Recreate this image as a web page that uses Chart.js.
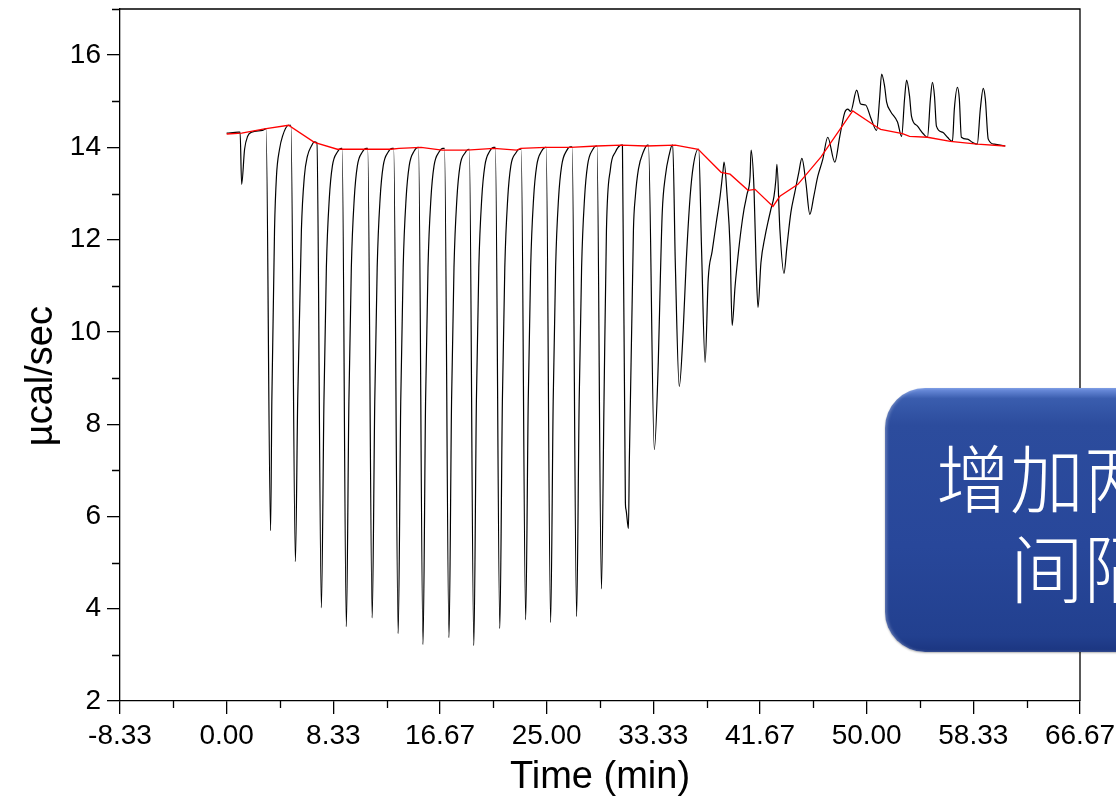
<!DOCTYPE html>
<html>
<head>
<meta charset="utf-8">
<title>ITC thermogram</title>
<script src="https://cdn.jsdelivr.net/npm/chart.js@4.4.1/dist/chart.umd.min.js"></script>
<style>
    html, body { margin: 0; padding: 0; background: #fff; }
    #wrap { position: relative; width: 1116px; height: 800px; overflow: hidden; }
    #chart { position: absolute; left: 0; top: 0; }
    .note {
        position: absolute; left: 885px; top: 388px;
        width: 546px; height: 264px; border-radius: 40px;
        background: linear-gradient(to bottom, #7193e2 0%, #3a5dae 4%, #2c4c9d 14%, #28479a 60%, #22408f 94%, #1b3580 100%);
        box-shadow: inset 2px 0 3px rgba(255,255,255,0.25), 0 1px 2px rgba(0,0,0,0.3);
        color: #fff; font-family: "Noto Sans CJK SC", sans-serif; font-weight: 300;
        font-size: 74px; line-height: 90px; text-align: center;
        display: flex; align-items: center; justify-content: center;
    }
</style>
</head>
<body>
<div id="wrap">
    <canvas id="chart" width="1116" height="800"></canvas>
    <div class="note"><div>增加两次滴定<br>间隔时间</div></div>
</div>
<script>
// axis ticks
const xTicks = [-8.333, 0, 8.333, 16.667, 25, 33.333, 41.667, 50, 58.333, 66.667];
const xMinor = [-4.167, 4.167, 12.5, 20.833, 29.167, 37.5, 45.833, 54.167, 62.5];
const yTicks = [2, 4, 6, 8, 10, 12, 14, 16];
const yMinor = [3, 5, 7, 9, 11, 13, 15, 17];

// raw heat signal, [time (min), µcal/sec]
const thermogram = [
    [0.00, 14.31], [0.93, 14.33],
    [1.05, 14.33], [1.17, 13.20], [1.40, 13.96], [1.64, 14.24], [1.95, 14.33], [2.80, 14.37], [3.04, 14.40],
    [3.08, 14.40], [3.43, 5.69], [3.53, 8.53], [3.74, 12.22], [3.89, 13.37], [4.13, 13.96], [4.36, 14.24], [4.83, 14.48],
    [5.02, 14.48], [5.37, 5.02], [5.55, 8.53], [5.84, 12.22], [6.07, 13.37], [6.31, 13.81], [6.62, 14.03], [6.85, 14.12],
    [7.05, 14.10], [7.40, 4.02], [7.60, 8.50], [7.79, 11.40], [8.02, 12.90], [8.26, 13.60], [8.65, 13.90], [8.96, 13.98],
    [9.02, 13.98], [9.35, 3.61], [9.55, 8.50], [9.74, 11.40], [9.97, 12.90], [10.21, 13.60], [10.60, 13.90], [10.91, 13.98],
    [11.02, 13.98], [11.37, 3.80], [11.57, 8.50], [11.76, 11.40], [11.99, 12.90], [12.23, 13.60], [12.62, 13.90], [12.93, 13.98],
    [13.05, 13.98], [13.40, 3.46], [13.60, 8.50], [13.79, 11.40], [14.02, 12.90], [14.26, 13.60], [14.65, 13.92], [14.96, 14.00],
    [14.99, 14.00], [15.34, 3.22], [15.54, 8.50], [15.73, 11.40], [15.96, 12.90], [16.20, 13.60], [16.59, 13.90], [16.90, 13.98],
    [17.02, 13.98], [17.37, 3.37], [17.57, 8.50], [17.76, 11.40], [17.99, 12.90], [18.23, 13.60], [18.62, 13.88], [18.93, 13.96],
    [18.96, 13.96], [19.31, 3.20], [19.51, 8.50], [19.70, 11.40], [19.93, 12.90], [20.17, 13.60], [20.56, 13.92], [20.87, 14.00],
    [20.99, 14.00], [21.34, 3.57], [21.54, 8.50], [21.73, 11.40], [21.96, 12.90], [22.20, 13.60], [22.59, 13.88], [22.90, 13.96],
    [23.01, 13.96], [23.36, 3.76], [23.56, 8.50], [23.75, 11.40], [23.98, 12.90], [24.22, 13.60], [24.61, 13.92], [24.92, 14.00],
    [24.96, 14.00], [25.31, 3.70], [25.51, 8.50], [25.70, 11.40], [25.93, 12.90], [26.17, 13.60], [26.56, 13.93], [26.87, 14.01],
    [26.99, 14.01], [27.34, 3.83], [27.54, 8.50], [27.73, 11.40], [27.96, 12.90], [28.20, 13.62], [28.59, 13.95], [28.90, 14.03],
    [28.93, 14.03], [29.28, 4.43], [29.48, 8.50], [29.67, 12.20], [29.98, 13.53], [30.37, 13.90], [30.84, 14.05],
    [30.92, 14.05], [31.15, 6.30], [31.20, 6.15], [31.39, 5.74], [31.46, 7.23], [31.78, 12.22], [31.93, 12.94], [32.17, 13.53], [32.55, 13.90], [32.87, 14.05],
    [32.95, 14.05], [33.41, 7.45], [33.72, 9.34], [33.88, 11.14], [34.03, 12.59], [34.27, 13.37], [34.58, 13.85], [34.81, 14.05],
    [34.85, 14.05], [35.05, 11.50], [35.36, 8.82], [35.67, 10.05], [35.90, 11.50], [36.21, 12.94], [36.45, 13.59], [36.84, 13.96],
    [36.88, 13.96], [37.10, 11.80], [37.38, 9.34], [37.62, 11.14], [37.93, 11.75], [38.24, 12.35], [38.55, 12.94], [38.78, 13.50], [38.86, 13.68],
    [39.10, 12.94], [39.33, 11.85], [39.49, 10.14], [39.72, 10.99], [39.95, 11.64], [40.19, 12.22], [40.42, 12.66], [40.65, 12.98], [40.89, 13.37], [40.97, 13.94],
    [41.20, 13.09], [41.36, 11.50], [41.51, 10.53], [41.74, 11.50], [42.06, 12.07], [42.29, 12.38], [42.52, 12.66], [42.76, 12.94], [42.91, 13.31], [42.99, 13.63],
    [43.22, 12.22], [43.54, 11.27], [43.77, 11.85], [44.08, 12.59], [44.39, 13.03], [44.70, 13.46], [44.94, 13.76],
    [45.25, 13.24], [45.56, 12.55], [45.87, 12.94], [46.18, 13.37], [46.57, 13.74], [46.96, 14.22],
    [47.51, 13.68], [47.90, 14.24], [48.29, 14.76], [48.52, 14.83], [48.75, 14.78], [49.22, 15.24], [49.53, 14.94], [49.92, 14.92], [50.31, 14.65], [50.78, 14.37],
    [51.01, 15.05], [51.17, 15.59], [51.40, 15.33], [51.56, 14.98], [51.87, 14.78], [52.41, 14.55], [52.73, 14.24],
    [52.96, 15.05], [53.12, 15.46], [53.35, 15.11], [53.50, 14.68], [53.97, 14.46], [54.44, 14.29], [54.75, 14.22],
    [54.98, 15.05], [55.14, 15.41], [55.30, 15.11], [55.45, 14.46], [55.92, 14.33], [56.31, 14.22], [56.70, 14.13],
    [56.85, 14.83], [57.09, 15.30], [57.24, 15.05], [57.40, 14.22], [57.87, 14.18], [58.26, 14.11], [58.64, 14.07],
    [58.88, 14.83], [59.11, 15.28], [59.27, 15.05], [59.50, 14.18], [59.97, 14.07], [60.83, 14.03]
];

// fitted baseline (red)
const baseline = [
    [0.00, 14.29], [1.17, 14.31], [2.96, 14.40], [4.83, 14.48], [6.85, 14.11], [8.64, 13.96],
    [10.90, 13.96], [12.85, 13.96], [13.47, 13.98], [15.19, 14.00], [16.82, 13.94], [18.77, 13.94],
    [20.87, 13.98], [22.66, 13.94], [22.97, 13.98], [24.92, 14.00], [26.87, 14.00], [28.89, 14.03],
    [30.84, 14.05], [32.79, 14.03], [35.05, 14.05], [36.84, 13.96], [38.63, 13.46], [39.33, 13.42],
    [40.73, 13.07], [41.28, 13.09], [42.68, 12.72], [43.22, 12.94], [44.63, 13.20], [46.42, 13.79],
    [48.91, 14.79], [50.70, 14.46], [51.09, 14.39], [52.80, 14.30], [53.35, 14.24], [54.75, 14.22],
    [56.54, 14.13], [58.64, 14.07], [60.83, 14.03]
];

const toPoints = arr => arr.map(p => ({ x: p[0], y: p[1] }));

// minor ticks + top/right frame
const frameAndMinor = {
    id: 'frameAndMinor',
    afterDraw(chart) {
        const ctx = chart.ctx;
        const a = chart.chartArea;
        const xs = chart.scales.x, ys = chart.scales.y;
        ctx.save();
        ctx.strokeStyle = '#000';
        ctx.lineWidth = 1.3;
        ctx.beginPath();
        xMinor.forEach(v => {
            const px = Math.round(xs.getPixelForValue(v)) + 0.5;
            ctx.moveTo(px, a.bottom);
            ctx.lineTo(px, a.bottom + 7);
        });
        yMinor.forEach(v => {
            const py = Math.round(ys.getPixelForValue(v)) + 0.5;
            ctx.moveTo(a.left - 8, py);
            ctx.lineTo(a.left, py);
        });
        ctx.moveTo(a.left, a.top);
        ctx.lineTo(a.right, a.top);
        ctx.lineTo(a.right, a.bottom);
        ctx.stroke();
        ctx.restore();
    }
};

const tickFont = { family: 'Liberation Sans, Arial, sans-serif', size: 28 };
const titleFont = { family: 'Liberation Sans, Arial, sans-serif', size: 38 };

new Chart(document.getElementById('chart'), {
    type: 'line',
    data: {
        datasets: [{
            label: 'baseline',
            data: toPoints(baseline),
            borderColor: '#ff0000',
            borderWidth: 1.3,
            tension: 0
        }, {
            label: 'raw',
            data: toPoints(thermogram),
            borderColor: '#000000',
            borderWidth: 1.2,
            cubicInterpolationMode: 'monotone'
        }]
    },
    options: {
        responsive: false,
        animation: false,
        layout: { padding: { top: 9, right: 36, left: 0, bottom: 0 } },
        elements: { point: { radius: 0 } },
        plugins: {
            legend: { display: false },
            tooltip: { enabled: false }
        },
        scales: {
            x: {
                type: 'linear',
                min: -8.333,
                max: 66.667,
                afterBuildTicks: s => { s.ticks = xTicks.map(v => ({ value: v })); },
                afterFit: s => { s.height = 99; s.paddingLeft = 0; s.paddingRight = 0; },
                ticks: {
                    callback: v => v.toFixed(2),
                    font: tickFont, color: '#000', padding: 5,
                    maxRotation: 0, autoSkip: false
                },
                grid: { drawOnChartArea: false, drawTicks: true, tickLength: 13, color: '#000', lineWidth: 1.3 },
                border: { display: true, color: '#000', width: 1.3 },
                title: { display: true, text: 'Time (min)', font: titleFont, color: '#000', padding: { top: 0, bottom: 0 } }
            },
            y: {
                min: 2,
                max: 17,
                afterBuildTicks: s => { s.ticks = yTicks.map(v => ({ value: v })); },
                afterFit: s => { s.width = 120; s.paddingTop = 0; s.paddingBottom = 0; },
                ticks: { font: tickFont, color: '#000', padding: 6 },
                grid: { drawOnChartArea: false, drawTicks: true, tickLength: 13, color: '#000', lineWidth: 1.3 },
                border: { display: true, color: '#000', width: 1.3 },
                title: { display: true, text: 'µcal/sec    ', font: titleFont, color: '#000', padding: { top: 19, bottom: 0 } }
            }
        }
    },
    plugins: [frameAndMinor]
});
</script>
</body>
</html>
